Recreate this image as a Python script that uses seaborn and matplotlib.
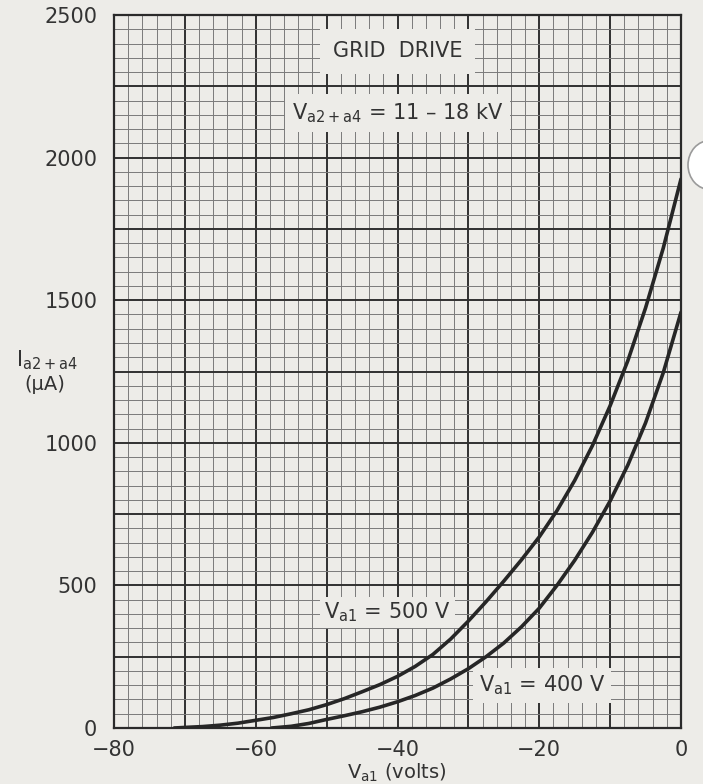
import numpy as np
import pandas as pd
import matplotlib
matplotlib.use("Agg")
import matplotlib.pyplot as plt
from matplotlib.ticker import MultipleLocator
import matplotlib.patches as mpatches
import seaborn as sns

# ---- data ----
vg_500 = [-71.5, -70, -67.5, -65, -62.5, -60, -57.5, -55, -52.5, -50, -47.5,
          -45, -42.5, -40, -37.5, -35, -32.5, -30, -27.5, -25, -22.5, -20,
          -17.5, -15, -12.5, -10, -7.5, -5, -2.5, 0]
ia_500 = [0, 2, 5, 10, 17, 27, 37, 50, 64, 82, 103,
          127, 152, 181, 216, 258, 312, 375, 443, 515, 590, 670,
          762, 868, 990, 1130, 1288, 1473, 1683, 1925]

vg_400 = [-57.75, -55, -52.5, -50, -47.5, -45, -42.5, -40, -37.5, -35, -32.5,
          -30, -27.5, -25, -22.5, -20, -17.5, -15, -12.5, -10, -7.5, -5,
          -2.5, 0]
ia_400 = [0, 6, 16, 30, 43, 57, 73, 92, 114, 140, 172,
          208, 250, 298, 355, 420, 500, 588, 686, 796, 922, 1070,
          1246, 1458]

x_ticks = [-80, -60, -40, -20, 0]
y_ticks = [0, 500, 1000, 1500, 2000, 2500]
series_names = ["Va1 = 500 V", "Va1 = 400 V"]

df = pd.concat([
    pd.DataFrame({"Vg1": vg_500, "I": ia_500, "curve": series_names[0]}),
    pd.DataFrame({"Vg1": vg_400, "I": ia_400, "curve": series_names[1]}),
])

PAPER = "#edece8"
INK = "#262626"
TXT = "#333333"

sns.set_theme(style="white")
plt.rcParams["font.family"] = ["DejaVu Sans"]

fig = plt.figure(figsize=(7.03, 7.84), dpi=100, facecolor=PAPER)
ax = fig.add_axes([114 / 703, 56 / 784, 567 / 703, 713 / 784])
ax.set_facecolor(PAPER)

sns.lineplot(data=df, x="Vg1", y="I", hue="curve",
             palette=[INK, INK], linewidth=2.6, legend=False,
             sort=False, ax=ax, zorder=3)

# grid
xt = np.arange(-80, 1, 10)
yt = np.arange(0, 2501, 250)
ax.set_xticks(xt)
ax.set_xticklabels([("%d" % v).replace("-", "\u2212") if v in x_ticks else "" for v in xt])
ax.set_yticks(yt)
ax.set_yticklabels([("%d" % v) if v in y_ticks else "" for v in yt])
ax.xaxis.set_minor_locator(MultipleLocator(2))
ax.yaxis.set_minor_locator(MultipleLocator(50))
ax.grid(which="minor", color="#7a7a7a", linewidth=0.7, zorder=0)
ax.grid(which="major", color="#303030", linewidth=1.4, zorder=0)
ax.set_axisbelow(True)
ax.set_xlim(-80, 0)
ax.set_ylim(0, 2500)

ax.tick_params(axis="both", which="both", length=0, labelsize=15, colors=TXT)
ax.tick_params(axis="x", pad=9)
ax.tick_params(axis="y", pad=12)

for s in ax.spines.values():
    s.set_color("#2a2a2a")
    s.set_linewidth(1.6)

ax.set_xlabel("")
ax.set_ylabel("")

ax.text(-40, 2373, "GRID  DRIVE", fontsize=15, color=TXT,
        ha="center", va="center", bbox=dict(facecolor=PAPER, edgecolor="none", pad=9), zorder=4)
ax.text(-40, 2156, r"$\mathrm{V_{a2+a4}}$ = 11 – 18 kV", fontsize=15, color=TXT,
        ha="center", va="center", bbox=dict(facecolor=PAPER, edgecolor="none", pad=5), zorder=4)
ax.text(-41.4, 405, r"$\mathrm{V_{a1}}$ = 500 V", fontsize=15, color=TXT,
        ha="center", va="center", bbox=dict(facecolor=PAPER, edgecolor="none", pad=3), zorder=4)
ax.text(-19.6, 150, r"$\mathrm{V_{a1}}$ = 400 V", fontsize=15, color=TXT,
        ha="center", va="center", bbox=dict(facecolor=PAPER, edgecolor="none", pad=4), zorder=4)

fig.text(47 / 703, 1 - 360 / 784, r"$\mathrm{I_{a2+a4}}$", fontsize=15,
         color=TXT, ha="center", va="center")
fig.text(45 / 703, 1 - 385 / 784, "(μA)", fontsize=14,
         color=TXT, ha="center", va="center")
fig.text(397 / 703, 1 - 773 / 784, r"$\mathrm{V_{a1}}$ (volts)", fontsize=14,
         color=TXT, ha="center", va="center")

# paper hole punch at right edge
fig.patches.append(mpatches.Circle((710 / 703, 1 - 165 / 784), 22 / 703,
                                   transform=fig.transFigure, facecolor="white",
                                   edgecolor="#9a9a9a", linewidth=1.2, zorder=0))

fig.savefig("out.png", dpi=100, facecolor=PAPER)
